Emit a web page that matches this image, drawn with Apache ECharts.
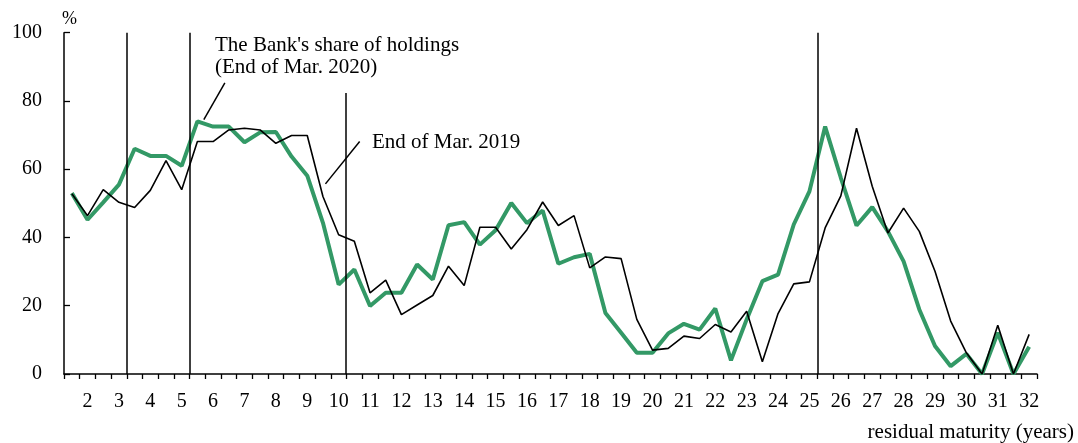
<!DOCTYPE html>
<html>
<head>
<meta charset="utf-8">
<script src="https://cdn.jsdelivr.net/npm/echarts@6/dist/echarts.min.js"></script>
<style>
  html, body { margin: 0; padding: 0; background: #fff; }
  #chart { width: 1078px; height: 443px; }
</style>
</head>
<body>
<div id="chart"></div>
<script>
// Half-year residual maturity buckets (years)
const categories = ['1.5','2','2.5','3','3.5','4','4.5','5','5.5','6','6.5','7','7.5','8','8.5','9','9.5','10',
  '10.5','11','11.5','12','12.5','13','13.5','14','14.5','15','15.5','16','16.5','17','17.5','18','18.5','19',
  '19.5','20','20.5','21','21.5','22','22.5','23','23.5','24','24.5','25','25.5','26','26.5','27','27.5','28',
  '28.5','29','29.5','30','30.5','31','31.5','32'];

// The Bank's share of holdings, End of Mar. 2020 (%)
const share2020 = [53.0,45.2,50.3,55.5,66.0,63.9,63.9,61.0,74.0,72.5,72.5,67.9,70.8,70.9,63.7,58.1,44.3,26.2,
  30.6,19.9,23.8,23.8,32.1,27.7,43.6,44.5,37.9,42.1,50.1,44.2,47.9,32.3,34.2,35.2,17.9,12.1,
  6.2,6.2,11.9,14.7,13.0,19.2,4.0,16.0,27.2,29.1,43.8,53.5,72.5,57.5,43.5,48.9,41.8,33.0,
  18.9,8.2,2.3,5.9,0,12.1,0,8.0];

// End of Mar. 2019 (%)
const share2019 = [52.8,46.4,54.0,50.3,48.8,53.8,62.5,54.0,68.1,68.1,71.5,72.0,71.5,67.6,69.9,69.9,52.0,40.8,
  38.9,23.8,27.5,17.4,20.2,23.0,31.6,25.9,43.0,43.0,36.6,42.3,50.4,43.5,46.4,31.1,34.3,33.8,
  16.0,7.0,7.5,11.1,10.4,14.5,12.3,18.4,3.6,17.7,26.4,27.0,42.8,52.2,72.0,55.0,41.3,48.6,
  41.8,30.1,15.5,6.2,0,14.3,0,11.6];

const yTicks = [0, 20, 40, 60, 80, 100];

// Vertical separator lines, at bucket boundaries: [boundary, top value]
const separators = [[4, 100], [8, 100], [17.94, 82.3], [48, 100]];

// Leader lines for the annotations: [[x0,y0],[x1,y1]] in bucket/percent units
const leaders = [[[8.91, 74.5], [10.25, 85.3]], [[16.66, 55.7], [18.84, 68.1]]];

const FONT = 'Liberation Serif';

const chart = echarts.init(document.getElementById('chart'), null, { renderer: 'canvas' });

const markData = separators.map(s => [{ coord: [s[0], 0] }, { coord: [s[0], s[1]] }]);
const leaderData = leaders.map(l => [{ coord: l[0] }, { coord: l[1] }]);

chart.setOption({
  animation: false,
  backgroundColor: '#ffffff',
  textStyle: { fontFamily: FONT, color: '#000' },
  grid: { left: 64, right: 41, top: 32.7, bottom: 68.4, containLabel: false },
  xAxis: [
    {
      type: 'category',
      data: categories,
      boundaryGap: true,
      axisLine: { lineStyle: { color: '#000', width: 1.5 } },
      axisTick: { show: true, interval: 0, inside: false, length: 5, lineStyle: { color: '#000', width: 1.3 } },
      axisLabel: {
        interval: 0,
        formatter: (v, i) => (i % 2 === 1 ? v : ''),
        fontFamily: FONT, fontSize: 20, color: '#000', margin: 18
      },
      splitLine: { show: false },
      name: 'residual maturity (years)',
      nameLocation: 'end',
      nameGap: 37,
      nameTextStyle: {
        fontFamily: FONT, fontSize: 21, color: '#000',
        align: 'right', verticalAlign: 'top', padding: [48, 0, 0, 0]
      }
    },
    {
      type: 'value', min: 0, max: 62, show: false
    }
  ],
  yAxis: {
    type: 'value',
    min: 0, max: 100, interval: 20,
    axisLine: { show: true, lineStyle: { color: '#000', width: 1.5 } },
    axisTick: { show: true, inside: true, length: 6, lineStyle: { color: '#000', width: 1.3 } },
    axisLabel: {
      fontFamily: FONT, fontSize: 20, color: '#000', margin: 22, padding: [4, 0, 0, 0],
      formatter: v => (yTicks.indexOf(v) >= 0 ? String(v) : '')
    },
    splitLine: { show: false },
    name: '%',
    nameLocation: 'end',
    nameGap: 4,
    nameTextStyle: { fontFamily: FONT, fontSize: 18, color: '#000', align: 'left', padding: [0, 0, 0, -2] }
  },
  series: [
    {
      name: "The Bank's share of holdings (End of Mar. 2020)",
      type: 'line',
      data: share2020,
      symbol: 'none',
      lineStyle: { color: '#339966', width: 4 },
      z: 2
    },
    {
      name: 'End of Mar. 2019',
      type: 'line',
      data: share2019,
      symbol: 'none',
      lineStyle: { color: '#000', width: 1.6 },
      z: 3
    },
    {
      name: 'markers',
      type: 'line',
      xAxisIndex: 1,
      data: [],
      symbol: 'none',
      z: 4,
      markLine: {
        silent: true,
        symbol: ['none', 'none'],
        label: { show: false },
        animation: false,
        lineStyle: { color: '#000', width: 1.5, type: 'solid' },
        data: markData.concat(leaderData)
      }
    }
  ],
  graphic: [
    {
      type: 'text', left: 215, top: 34,
      style: {
        text: "The Bank's share of holdings\n(End of Mar. 2020)",
        font: '21px "Liberation Serif"', fill: '#000', lineHeight: 22
      }
    },
    {
      type: 'text', left: 372, top: 132,
      style: { text: 'End of Mar. 2019', font: '21px "Liberation Serif"', fill: '#000' }
    }
  ]
});
</script>
</body>
</html>
